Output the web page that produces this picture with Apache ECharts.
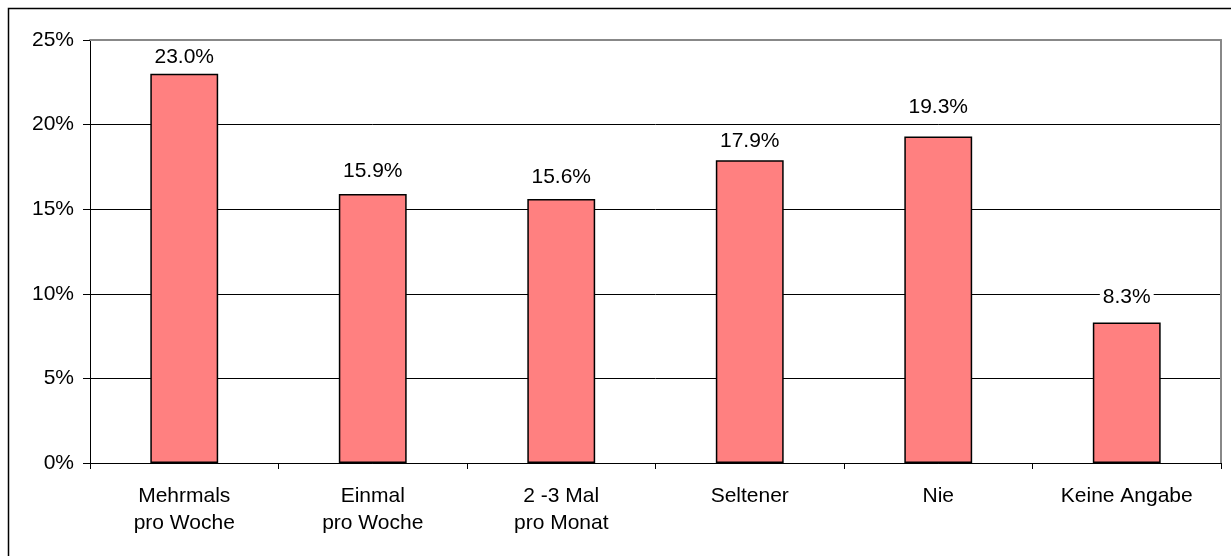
<!DOCTYPE html>
<html><head><meta charset="utf-8">
<script src="https://cdn.jsdelivr.net/npm/echarts@6/dist/echarts.min.js"></script>
<style>html,body{margin:0;padding:0;background:#fff}#c{width:1231px;height:556px}</style>
</head><body><div id="c"></div>
<script>
const categories = ['Mehrmals\npro Woche', 'Einmal\npro Woche', '2 -3 Mal\npro Monat', 'Seltener', 'Nie', 'Keine Angabe'];
const values = [23.0, 15.9, 15.6, 17.9, 19.3, 8.3];
const yTicks = [0, 5, 10, 15, 20, 25];
// label spacing above each bar (style only)
const labelGap = [5, 11.5, 10.5, 7.5, 17.5, 13.5];

const font = 'Liberation Sans, Arial, sans-serif';
const chart = echarts.init(document.getElementById('c'), null, {renderer: 'canvas'});
chart.setOption({
  animation: false,
  backgroundColor: '#fff',
  graphic: [{
    type: 'rect', silent: true,
    shape: {x: 8.5, y: 8.5, width: 1400, height: 800},
    style: {fill: 'none', stroke: '#000', lineWidth: 1.5}, z: -10
  }],
  grid: {left: 90, right: 10, top: 40, bottom: 93},
  xAxis: [{
    type: 'category', data: categories, position: 'bottom',
    axisLine: {onZero: false, lineStyle: {color: '#000', width: 1}},
    axisTick: {show: true, length: 6, lineStyle: {color: '#000'}},
    axisLabel: {color: '#000', fontSize: 21, fontFamily: font, margin: 20, lineHeight: 27, interval: 0}
  }, {
    type: 'category', data: categories, position: 'top',
    axisLine: {onZero: false, lineStyle: {color: '#888', width: 2}},
    axisTick: {show: false}, axisLabel: {show: false}
  }],
  yAxis: [{
    type: 'value', min: yTicks[0], max: yTicks[yTicks.length - 1], interval: 5,
    axisLine: {show: true, onZero: false, lineStyle: {color: '#000', width: 1}},
    axisTick: {show: true, length: 7, lineStyle: {color: '#000'}},
    axisLabel: {color: '#000', fontSize: 21, fontFamily: font, margin: 16, formatter: v => v + '%'},
    splitLine: {show: true, showMaxLine: false, lineStyle: {color: '#000', width: 1}}
  }, {
    type: 'value', min: 0, max: 25, interval: 5, position: 'right',
    axisLine: {show: true, onZero: false, lineStyle: {color: '#888', width: 2}},
    axisTick: {show: false}, axisLabel: {show: false}, splitLine: {show: false}
  }],
  series: [{
    type: 'bar',
    data: values.map((v, i) => ({value: v, label: {distance: labelGap[i]}})),
    barWidth: '36%',
    itemStyle: {color: '#FF8080', borderColor: '#000', borderWidth: 1.5},
    label: {
      show: true, position: 'top', distance: 5, color: '#000', fontSize: 21, fontFamily: font,
      backgroundColor: '#fff', padding: [1, 3],
      formatter: p => p.value.toFixed(1) + '%'
    }
  }]
});
</script></body></html>
